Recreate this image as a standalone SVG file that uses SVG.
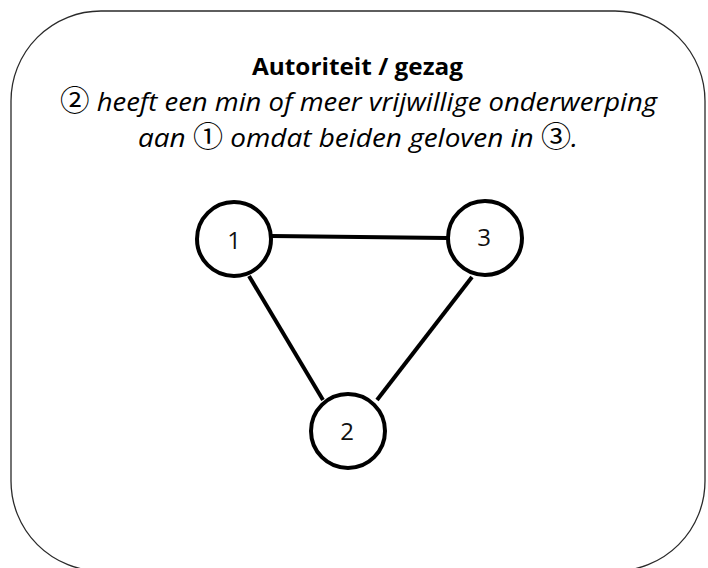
<svg xmlns="http://www.w3.org/2000/svg" width="708" height="568" viewBox="0 0 708 568">
  <style>
    .frame { fill: #ffffff; stroke: #2a2a2a; stroke-width: 1.3; }
    .node circle { fill: #ffffff; stroke: #000000; stroke-width: 4; }
    .node text { font-family: "Open Sans", Lato, "Liberation Sans", sans-serif; font-size: 24px; fill: #111111; text-anchor: middle; }
    .edge { stroke: #000000; stroke-width: 4; fill: none; }
    .title { font-family: "Open Sans", Lato, "Liberation Sans", sans-serif; font-size: 23px; font-weight: bold; fill: #000000; }
    .body { font-family: "Open Sans", Lato, "Liberation Sans", sans-serif; font-size: 26px; font-style: italic; fill: #000000; }
    .circ { font-family: "Noto Sans CJK JP", "Noto Sans CJK SC", sans-serif; font-style: normal; font-size: 28px; }
  </style>
  <rect width="708" height="568" fill="#ffffff"/>
  <rect class="frame" x="11" y="11" width="694" height="560" rx="90" ry="90"/>
  <g id="caption">
    <text class="title" x="252" y="75" textLength="211" lengthAdjust="spacingAndGlyphs">Autoriteit / gezag</text>
    <text class="body" x="60" y="111" textLength="597" lengthAdjust="spacingAndGlyphs"><tspan class="circ">②</tspan> heeft een min of meer vrijwillige onderwerping</text>
    <text class="body" x="138" y="147" textLength="440" lengthAdjust="spacingAndGlyphs">aan <tspan class="circ">①</tspan> omdat beiden geloven in <tspan class="circ">③</tspan>.</text>
  </g>
  <g id="connectors">
    <line class="edge" x1="272" y1="236" x2="447" y2="238"/>
    <line class="edge" x1="249" y1="276" x2="323" y2="400"/>
    <line class="edge" x1="472" y1="277" x2="377" y2="400"/>
  </g>
  <g id="node1" class="node">
    <circle cx="234" cy="239" r="37"/>
    <text x="234" y="249">1</text>
  </g>
  <g id="node3" class="node">
    <circle cx="485" cy="238" r="37"/>
    <text x="484" y="246">3</text>
  </g>
  <g id="node2" class="node">
    <circle cx="348" cy="431" r="37"/>
    <text x="347" y="440">2</text>
  </g>
</svg>
